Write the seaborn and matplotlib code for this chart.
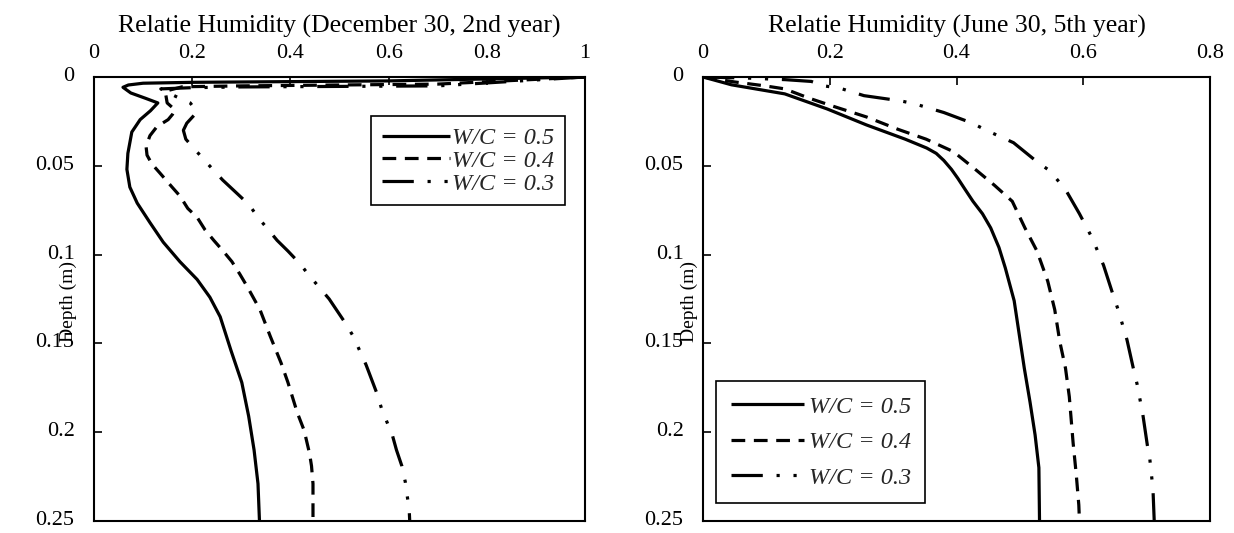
import matplotlib
matplotlib.use("Agg")
import matplotlib.pyplot as plt
import matplotlib.transforms as mtransforms
import seaborn as sns

# ---------------- data ----------------
# Left panel: December 30, 2nd year  (relative humidity vs depth)
dec_wc05_rh = [1.0, 0.6, 0.2, 0.1, 0.07, 0.059, 0.075, 0.105, 0.130, 0.115, 0.094, 0.077,
               0.069, 0.067, 0.073, 0.088, 0.114, 0.141, 0.175, 0.21, 0.236, 0.257, 0.279,
               0.301, 0.315, 0.326, 0.334, 0.337]
dec_wc05_depth = [0.0, 0.0022, 0.003, 0.0035, 0.0045, 0.0058, 0.009, 0.012, 0.0146, 0.019,
                  0.024, 0.031, 0.043, 0.052, 0.062, 0.071, 0.082, 0.093, 0.104, 0.114, 0.124,
                  0.135, 0.154, 0.172, 0.191, 0.21, 0.229, 0.25]

dec_wc04_rh = [1.0, 0.7, 0.3, 0.18, 0.145, 0.149, 0.165, 0.16, 0.151, 0.128, 0.114, 0.106,
               0.108, 0.118, 0.134, 0.159, 0.175, 0.191, 0.21, 0.226, 0.244, 0.263, 0.281,
               0.297, 0.312, 0.324, 0.338, 0.359, 0.381, 0.395, 0.414, 0.428, 0.439, 0.443,
               0.446, 0.446]
dec_wc04_depth = [0.0, 0.004, 0.005, 0.0055, 0.008, 0.0146, 0.0185, 0.021, 0.024, 0.028,
                  0.033, 0.039, 0.044, 0.049, 0.054, 0.062, 0.067, 0.074, 0.079, 0.086, 0.092,
                  0.098, 0.104, 0.111, 0.118, 0.124, 0.131, 0.146, 0.161, 0.172, 0.189, 0.199,
                  0.212, 0.219, 0.229, 0.25]

dec_wc03_rh = [1.0, 0.7, 0.3, 0.2, 0.136, 0.167, 0.196, 0.21, 0.189, 0.182, 0.187, 0.208,
               0.232, 0.262, 0.293, 0.316, 0.334, 0.373, 0.395, 0.419, 0.439, 0.479, 0.496,
               0.513, 0.528, 0.554, 0.565, 0.576, 0.586, 0.608, 0.616, 0.627, 0.634, 0.642,
               0.643]
dec_wc03_depth = [0.0, 0.005, 0.0056, 0.006, 0.0067, 0.011, 0.0146, 0.0197, 0.026, 0.03,
                  0.035, 0.0416, 0.049, 0.058, 0.066, 0.072, 0.079, 0.092, 0.098, 0.105, 0.112,
                  0.125, 0.132, 0.139, 0.146, 0.162, 0.170, 0.178, 0.187, 0.202, 0.210, 0.219,
                  0.228, 0.244, 0.25]

# Right panel: June 30, 5th year
jun_wc05_rh = [0.0, 0.045, 0.129, 0.196, 0.258, 0.319, 0.353, 0.368, 0.38, 0.392, 0.402,
               0.413, 0.426, 0.441, 0.454, 0.467, 0.477, 0.491, 0.499, 0.507, 0.516, 0.524,
               0.530, 0.531]
jun_wc05_depth = [0.0, 0.0044, 0.0095, 0.018, 0.027, 0.035, 0.040, 0.043, 0.047, 0.052,
                  0.057, 0.063, 0.070, 0.077, 0.085, 0.096, 0.1075, 0.126, 0.145, 0.164, 0.183,
                  0.2015, 0.220, 0.25]

jun_wc04_rh = [0.0, 0.05, 0.098, 0.129, 0.168, 0.21, 0.258, 0.308, 0.352, 0.395, 0.428, 0.46,
               0.488, 0.508, 0.527, 0.544, 0.555, 0.563, 0.572, 0.578, 0.584, 0.589, 0.593,
               0.594]
jun_wc04_depth = [0.0, 0.0028, 0.005, 0.0067, 0.012, 0.017, 0.0225, 0.0295, 0.035, 0.042,
                  0.0515, 0.061, 0.070, 0.085, 0.098, 0.115, 0.131, 0.149, 0.164, 0.18, 0.206,
                  0.224, 0.241, 0.25]

jun_wc03_rh = [0.0, 0.07, 0.13, 0.171, 0.191, 0.216, 0.254, 0.311, 0.333, 0.38, 0.425, 0.447,
               0.49, 0.528, 0.548, 0.573, 0.594, 0.614, 0.632, 0.647, 0.655, 0.669, 0.679,
               0.685, 0.694, 0.701, 0.705, 0.710, 0.712]
jun_wc03_depth = [0.0, 0.0006, 0.0015, 0.0025, 0.005, 0.0063, 0.0105, 0.0134, 0.015, 0.02,
                  0.026, 0.030, 0.037, 0.048, 0.053, 0.064, 0.077, 0.0906, 0.106, 0.1226, 0.131,
                  0.148, 0.164, 0.173, 0.19, 0.207, 0.215, 0.232, 0.25]

series_labels = ["W/C = 0.5", "W/C = 0.4", "W/C = 0.3"]
left_xticks = [0, 0.2, 0.4, 0.6, 0.8, 1]
left_xticklabels = ["0", "0.2", "0.4", "0.6", "0.8", "1"]
right_xticks = [0, 0.2, 0.4, 0.6, 0.8]
right_xticklabels = ["0", "0.2", "0.4", "0.6", "0.8"]
yticks = [0, 0.05, 0.1, 0.15, 0.2, 0.25]
yticklabels = ["0", "0.05", "0.1", "0.15", "0.2", "0.25"]
left_title = "Relatie Humidity (December 30, 2nd year)"
right_title = "Relatie Humidity (June 30, 5th year)"
ylabel = "Depth (m)"

# ---------------- style ----------------
sns.set_theme(style="white")
plt.rcParams["font.family"] = ["Liberation Serif", "DejaVu Serif"]
plt.rcParams["font.size"] = 16

TICK_FS = 16
TITLE_FS = 18.5
LEG_FS = 17.5
YLAB_FS = 14
LW = 2.3
dash_styles = [
    (0, ()),                                   # solid
    (0, (4.3, 2.7)),                           # dashed
    (0, (9.8, 4.3, 1.0, 4.3, 1.0, 4.3)),       # long dash - dot - dot
]

fig = plt.figure(figsize=(12.34, 5.33), dpi=100)
W, H = 1234.0, 533.0


def axes_px(x0, x1, y0, y1):
    return fig.add_axes([x0 / W, 1 - y1 / H, (x1 - x0) / W, (y1 - y0) / H])


axL = axes_px(94, 585, 77, 521)
axR = axes_px(703, 1210, 77, 521)

panels = [
    (axL, [(dec_wc05_rh, dec_wc05_depth), (dec_wc04_rh, dec_wc04_depth),
           (dec_wc03_rh, dec_wc03_depth)], (0, 1), left_xticks, left_xticklabels, left_title),
    (axR, [(jun_wc05_rh, jun_wc05_depth), (jun_wc04_rh, jun_wc04_depth),
           (jun_wc03_rh, jun_wc03_depth)], (0, 0.8), right_xticks, right_xticklabels, right_title),
]

lift = mtransforms.ScaledTranslation(0, 3 / 100.0, fig.dpi_scale_trans)

for ax, series, xlim, xt, xtl, title in panels:
    for (rh, dep), lab, ls in zip(series, series_labels, dash_styles):
        sns.lineplot(x=rh, y=dep, sort=False, estimator=None, ax=ax, color="black",
                     linewidth=LW, label=lab)
        line = ax.lines[-1]
        line.set_linestyle(ls)
        line.set_dash_capstyle("butt")
        line.set_solid_capstyle("butt")
        line.set_solid_joinstyle("round")
    ax.set_xlim(*xlim)
    ax.set_ylim(0.25, 0)
    ax.xaxis.tick_top()
    ax.xaxis.set_label_position("top")
    ax.set_xticks(xt)
    ax.set_xticklabels(xtl)
    ax.set_yticks(yticks)
    ax.set_yticklabels(yticklabels)
    ax.set_xlabel(title, labelpad=8, fontsize=TITLE_FS, color="black")
    ax.set_ylabel(ylabel, fontsize=YLAB_FS, color="black")
    ax.tick_params(axis="x", direction="in", length=6, width=1.2, pad=10, labelsize=TICK_FS,
                   top=True, bottom=False, colors="black")
    ax.tick_params(axis="y", direction="in", length=6, width=1.2, pad=14, labelsize=TICK_FS,
                   left=True, right=False, colors="black")
    for lbl in ax.get_yticklabels():
        lbl.set_transform(lbl.get_transform() + lift)
    for s in ax.spines.values():
        s.set_color("black")
        s.set_linewidth(1.5)
    ax.grid(False)
    ax.set_facecolor("white")

axL.yaxis.set_label_coords(-0.035, 0.495)
axR.yaxis.set_label_coords(-0.010, 0.495)

leg_prop = {"family": "Liberation Serif", "style": "italic", "size": LEG_FS}
legL = axL.legend(loc="upper right", bbox_to_anchor=(0.96, 0.912), prop=leg_prop,
                  frameon=True, fancybox=False, edgecolor="black", framealpha=1,
                  handlelength=2.8, handletextpad=0.1, labelspacing=0.03,
                  borderpad=0.45, borderaxespad=0)
legR = axR.legend(loc="lower left", bbox_to_anchor=(0.026, 0.04), prop=leg_prop,
                  frameon=True, fancybox=False, edgecolor="black", framealpha=1,
                  handlelength=3.0, handletextpad=0.2, labelspacing=0.55,
                  borderpad=0.6, borderaxespad=0)
for leg in (legL, legR):
    leg.get_frame().set_linewidth(1.2)

fig.savefig("out.png", dpi=100, facecolor="white")
